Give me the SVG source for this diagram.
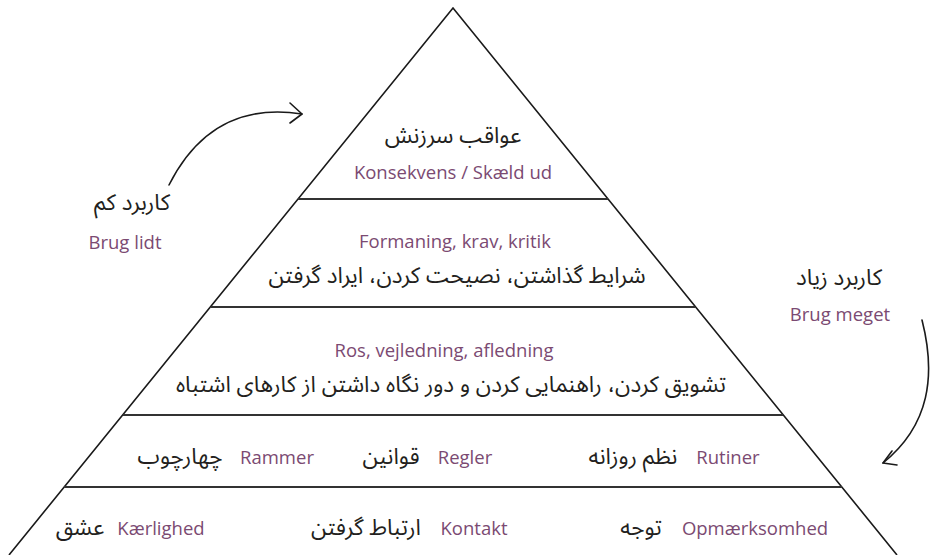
<svg xmlns="http://www.w3.org/2000/svg" width="930" height="555" viewBox="0 0 930 555">
<defs>
<style>
.fa{font-family:"Noto Sans Arabic","DejaVu Sans",sans-serif;font-size:22.5px;fill:#231f20;text-anchor:middle}
.da{font-family:"Open Sans","Noto Sans",sans-serif;font-size:18.5px;fill:#7b4a72;text-anchor:middle}
.edge{stroke:#1a1a1a;stroke-width:1.6;fill:none}
.band{stroke:#333;stroke-width:2.2;fill:none}
.arr{stroke:#1a1a1a;stroke-width:1.6;fill:none;stroke-linecap:round;stroke-linejoin:round}
</style>
</defs>
<rect width="930" height="555" fill="#ffffff"/>
<g id="pyramid">
<path class="edge" d="M9,555 L453,8 L897,555"/>
<line class="band" x1="298" y1="199" x2="608" y2="199"/>
<line class="band" x1="211" y1="307" x2="695" y2="307"/>
<line class="band" x1="123" y1="415" x2="783" y2="415"/>
<line class="band" x1="64" y1="487" x2="842" y2="487"/>
</g>
<g id="level1">
<text class="fa" x="453" y="143">عواقب سرزنش</text>
<text class="da" x="453" y="179">Konsekvens / Skæld ud</text>
</g>
<g id="level2">
<text class="da" x="455" y="248">Formaning, krav, kritik</text>
<text class="fa" x="457" y="283">شرایط گذاشتن، نصیحت کردن، ایراد گرفتن</text>
</g>
<g id="level3">
<text class="da" x="444" y="357">Ros, vejledning, afledning</text>
<text class="fa" x="451" y="392">تشویق کردن، راهنمایی کردن و دور نگاه داشتن از کارهای اشتباه</text>
</g>
<g id="level4">
<text class="fa" x="180" y="464">چهارچوب</text>
<text class="da" x="277" y="464">Rammer</text>
<text class="fa" x="391" y="464">قوانین</text>
<text class="da" x="465" y="464">Regler</text>
<text class="fa" x="633" y="464">نظم روزانه</text>
<text class="da" x="728" y="464">Rutiner</text>
</g>
<g id="level5">
<text class="fa" x="80" y="535">عشق</text>
<text class="da" x="161" y="535">Kærlighed</text>
<text class="fa" x="366" y="535">ارتباط گرفتن</text>
<text class="da" x="474" y="535">Kontakt</text>
<text class="fa" x="641" y="535">توجه</text>
<text class="da" x="755" y="535">Opmærksomhed</text>
</g>
<g id="low-use">
<text class="fa" x="132" y="210">کاربرد کم</text>
<text class="da" x="125" y="249">Brug lidt</text>
</g>
<g id="high-use">
<text class="fa" x="839" y="285">کاربرد زیاد</text>
<text class="da" x="840" y="321">Brug meget</text>
</g>
<g id="connectors">
<path class="arr" d="M169,185 Q212,100 302,114"/>
<path class="arr" d="M290,103 L302,114 L290,123"/>
<path class="arr" d="M922,320 C936,375 930,425 883,463"/>
<path class="arr" d="M892,451 L883,463 L897,465"/>
</g>
</svg>
